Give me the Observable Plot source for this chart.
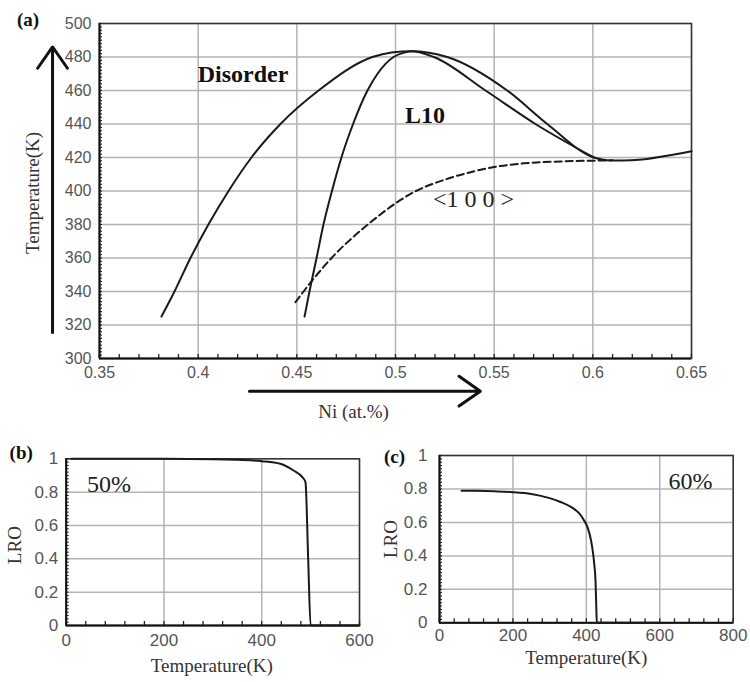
<!DOCTYPE html>
<html><head><meta charset="utf-8">
<script src="https://cdn.jsdelivr.net/npm/d3@7"></script>
<script src="https://cdn.jsdelivr.net/npm/@observablehq/plot@0.6"></script>
<style>
body{margin:0;background:#fff;}
#wrap{position:relative;width:750px;height:682px;overflow:hidden;background:#fff;}
#wrap svg{position:absolute;}
</style></head><body><div id="wrap"></div>
<script>
// ---------- Panel (a): phase diagram ----------
const outerNi = [0.3814,0.388,0.3961,0.4052,0.4154,0.427,0.4417,0.461,0.4883,0.498,0.5081,0.5262,0.5566,0.5769,0.6005,0.607,0.615,0.625,0.64,0.65];
const outerT  = [325,340,360,380,400,420,440,460,480,482.7,483.4,480,460,440,420,418.4,418.2,418.8,421.5,423.7];
const innerNi = [0.4539,0.4564,0.46,0.4635,0.4678,0.4726,0.4785,0.4858,0.4909,0.499,0.5035,0.5081,0.5194,0.5456,0.5709,0.6005];
const innerT  = [325,340,360,380,400,420,440,460,470,480,482.3,483.4,480,460,440,420];
const dashNi  = [0.4493,0.4534,0.4676,0.486,0.5104,0.5256,0.54,0.55,0.565,0.58,0.6,0.61];
const dashT   = [333.6,340,360,380,400,407,411.8,414.3,416.5,417.5,418.1,418.3];
const xTicksA = [0.35,0.4,0.45,0.5,0.55,0.6,0.65];
const xTickLabelsA = ["0.35","0.4","0.45","0.5","0.55","0.6","0.65"];
const yTicksA = [300,320,340,360,380,400,420,440,460,480,500];
const yTickLabelsA = ["300","320","340","360","380","400","420","440","460","480","500"];
const labelsA = [
  {text:"Disorder", x:0.4227, y:469.5, bold:true},
  {text:"L10", x:0.515, y:445, bold:true},
  {text:"<1 0 0 >", x:0.5395, y:395.3, bold:false}
];
const arrowsA = [
  {x1:0.3262, y1:315.5, x2:0.3262, y2:486},
  {x1:0.426, y1:280.5, x2:0.543, y2:280.5}
];

// ---------- Panel (b): LRO at 50% ----------
const bT   = [10,100,200,300,350,400,438,465,483,489.5,495,500,550,600];
const bLRO = [1,1,1,0.998,0.994,0.986,0.97,0.93,0.89,0.86,0.4,0,0,0];
const xTicksB = [0,200,400,600];
const xTickLabelsB = ["0","200","400","600"];

// ---------- Panel (c): LRO at 60% ----------
const cT   = [60,100,150,200,250,300,330,360,380,393,405,413,418,422,425,427,428.5,600];
const cLRO = [0.79,0.789,0.786,0.781,0.77,0.745,0.722,0.69,0.655,0.615,0.56,0.49,0.42,0.34,0.25,0.1,0,0];
const xTicksC = [0,200,400,600,800];
const xTickLabelsC = ["0","200","400","600","800"];

const yTicksLRO = [0,0.2,0.4,0.6,0.8,1];
const yTickLabelsLRO = ["0","0.2","0.4","0.6","0.8","1"];

const zip = (xs, ys, kx, ky) => xs.map((v,i)=>({[kx]:v,[ky]:ys[i]}));
const SERIF = "'Liberation Serif','Times New Roman',serif";
const SANS = "'Liberation Sans',Arial,sans-serif";
const gridStyle = {stroke:"#b4b4b4", strokeOpacity:1, strokeWidth:1.5};
const lineStyle = {stroke:"#1a1a1a", strokeWidth:2, curve:"monotone-x"};
const centered = {textAnchor:"middle", lineAnchor:"middle"};

const wrap = document.getElementById("wrap");
function place(svg, left, top){ svg.style.left = left+"px"; svg.style.top = top+"px"; wrap.appendChild(svg); }

// inward minor tick marks; pixel length converted through the domain/pixel ratio
function minorTicks(xdom, ydom, pw, ph, xs, ys, lenX, lenY){
  const ux = (xdom[1]-xdom[0])/pw, uy = (ydom[1]-ydom[0])/ph;
  return [
    Plot.ruleX(xs, {x:d=>d, y1:ydom[0], y2:ydom[0]+lenX*uy, stroke:"#222", strokeWidth:1.3}),
    Plot.ruleY(ys, {y:d=>d, x1:xdom[0], x2:xdom[0]+lenY*ux, stroke:"#222", strokeWidth:1.1})
  ];
}

const A = {w:750, h:430, ml:99, mr:59, mt:23, mb:72};
const xDomA = [0.35,0.65], yDomA = [300,500];
const plotA = Plot.plot({
  width:A.w, height:A.h,
  marginLeft:A.ml, marginRight:A.mr, marginTop:A.mt, marginBottom:A.mb,
  x:{domain:xDomA}, y:{domain:yDomA},
  style:{fontFamily:SANS, fontSize:"16px", color:"#555", background:"transparent", overflow:"visible"},
  marks:[
    Plot.gridX(xTicksA, gridStyle),
    Plot.gridY(yTicksA, gridStyle),
    Plot.frame({stroke:"#333", strokeWidth:1.5}),
    Plot.axisX(xTicksA, {tickSize:0, tickPadding:8, label:null, tickFormat:(d,i)=>xTickLabelsA[i]}),
    Plot.axisY(yTicksA, {tickSize:0, tickPadding:8, label:null, tickFormat:(d,i)=>yTickLabelsA[i]}),
    ...minorTicks(xDomA, yDomA, A.w-A.ml-A.mr, A.h-A.mt-A.mb, d3.range(35,66,1).map(v=>v/100), d3.range(300,501,2), 4, 3),
    Plot.ruleY([yDomA[0]], {stroke:"#111", strokeWidth:2}),
    Plot.ruleX([xDomA[0]], {stroke:"#111", strokeWidth:2}),
    Plot.line(zip(outerNi, outerT, "ni", "t"), {x:"ni", y:"t", ...lineStyle}),
    Plot.line(zip(innerNi, innerT, "ni", "t"), {x:"ni", y:"t", ...lineStyle}),
    Plot.line(zip(dashNi, dashT, "ni", "t"), {x:"ni", y:"t", ...lineStyle, strokeDasharray:"7,4"}),
    Plot.text(labelsA.filter(d=>d.bold), {x:"x", y:"y", text:"text", fontFamily:SERIF, fontWeight:"bold", fontSize:24, fill:"#111"}),
    Plot.text(labelsA.filter(d=>!d.bold), {x:"x", y:"y", text:"text", fontFamily:SERIF, fontSize:24, fill:"#222", letterSpacing:"3.5px"}),
    Plot.arrow(arrowsA, {x1:"x1", y1:"y1", x2:"x2", y2:"y2", stroke:"#111", strokeWidth:3, headLength:13, headAngle:70}),
    Plot.text(["Temperature(K)"], {frameAnchor:"left", dx:-67, dy:2, rotate:-90, ...centered, fontFamily:SERIF, fontSize:19, fill:"#333"}),
    Plot.text(["Ni (at.%)"], {frameAnchor:"bottom", dx:-42, dy:53, ...centered, fontFamily:SERIF, fontSize:19, fill:"#333"}),
    Plot.text(["(a)"], {frameAnchor:"top-left", dx:-71.5, dy:-3.5, ...centered, fontFamily:SERIF, fontWeight:"bold", fontSize:19, fill:"#111"})
  ]
});
place(plotA, 0, 0);

function lroPlot(o){
  const pw = 375 - o.ml - o.mr, ph = 252 - o.mt - o.mb;
  return Plot.plot({
    width:375, height:252,
    marginLeft:o.ml, marginRight:o.mr, marginTop:o.mt, marginBottom:o.mb,
    x:{domain:o.xdom}, y:{domain:[0,1]},
    style:{fontFamily:SANS, fontSize:"17px", color:"#555", background:"transparent", overflow:"visible"},
    marks:[
      Plot.gridX(o.xticks, gridStyle),
      Plot.gridY(yTicksLRO, gridStyle),
      Plot.frame({stroke:"#333", strokeWidth:1.5}),
      Plot.axisX(o.xticks, {tickSize:0, tickPadding:o.xpad, label:null, tickFormat:(d,i)=>o.xlabels[i]}),
      Plot.axisY(yTicksLRO, {tickSize:0, tickPadding:o.ypad, label:null, tickFormat:(d,i)=>yTickLabelsLRO[i]}),
      ...minorTicks(o.xdom, [0,1], pw, ph, d3.range(0, o.xdom[1]+1, 40), d3.range(0,51,1).map(v=>v/50), 4, 3),
      Plot.ruleY([0], {stroke:"#111", strokeWidth:2}),
      Plot.ruleX([o.xdom[0]], {stroke:"#111", strokeWidth:2}),
      Plot.line(o.data, {x:"T", y:"lro", stroke:"#1a1a1a", strokeWidth:2, curve:"monotone-x"}),
      Plot.text([o.pct], {x:"x", y:"y", text:"text", fontFamily:SERIF, fontSize:24, fill:"#222"}),
      Plot.text(["LRO"], {frameAnchor:"left", dx:o.lroDx, dy:o.lroDy, rotate:-90, ...centered, fontFamily:SERIF, fontSize:19, fill:"#333"}),
      Plot.text(["Temperature(K)"], {frameAnchor:"bottom", dx:o.tDx, dy:o.tDy, ...centered, fontFamily:SERIF, fontSize:19, fill:"#333"}),
      Plot.text([o.tag], {frameAnchor:"top-left", dx:o.tagDx, dy:o.tagDy, ...centered, fontFamily:SERIF, fontWeight:"bold", fontSize:19, fill:"#111"})
    ]
  });
}

const plotB = lroPlot({
  ml:65.7, mr:16, mt:28.3, mb:57, xdom:[0,600], xticks:xTicksB, xlabels:xTickLabelsB, xpad:8, ypad:8,
  data: zip(bT, bLRO, "T", "lro"),
  pct:{text:"50%", x:87.6, y:0.845},
  lroDx:-51, lroDy:3, tDx:-1, tDy:40, tag:"(b)", tagDx:-45, tagDy:-6
});
place(plotB, 0, 430);

const plotC = lroPlot({
  ml:64, mr:17.3, mt:25, mb:59.7, xdom:[0,800], xticks:xTicksC, xlabels:xTickLabelsC, xpad:6, ypad:12,
  data: zip(cT, cLRO, "T", "lro"),
  pct:{text:"60%", x:683.7, y:0.848},
  lroDx:-49, lroDy:0, tDx:0, tDy:35, tag:"(c)", tagDx:-45, tagDy:1
});
place(plotC, 375, 430);
</script>
</body></html>
